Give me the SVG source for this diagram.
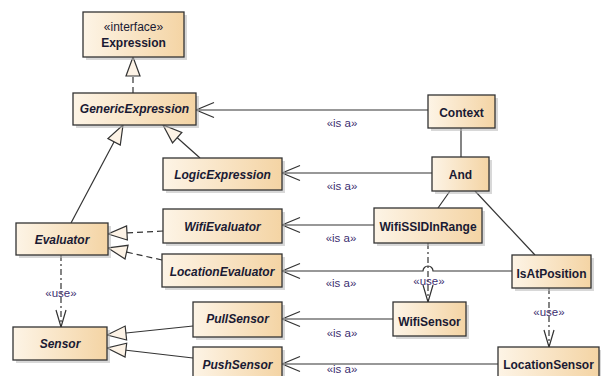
<svg xmlns="http://www.w3.org/2000/svg" width="601" height="376" viewBox="0 0 601 376">
<style>
.box{fill:url(#g);stroke:#333;stroke-width:1.3}
.sh{fill:#b8b8b8;opacity:0.55}
.t{font-family:"Liberation Sans",Arial,sans-serif;font-size:12px;font-weight:bold;fill:#1a1a33;text-anchor:middle}
.i{font-style:italic}
.n{font-weight:normal}
.ln{fill:none;stroke:#333;stroke-width:1.2}
.dash{stroke-dasharray:6,4}
.dd{stroke-dasharray:6,3,2,3}
.lb{font-family:"Liberation Sans",Arial,sans-serif;font-size:11.5px;fill:#3c2f70;text-anchor:middle}
</style>
<defs>
<linearGradient id="g" x1="0" y1="0" x2="1" y2="0">
<stop offset="0" stop-color="#fdf4e6"/>
<stop offset="1" stop-color="#f4d4a4"/>
</linearGradient>
<marker id="tri" markerUnits="userSpaceOnUse" markerWidth="24" markerHeight="20" viewBox="-22 -10 24 20" refX="0" refY="0" orient="auto" overflow="visible">
<path d="M0,0 L-19,-7 L-19,7 Z" fill="#fdf3e6" stroke="#333" stroke-width="1.2"/>
</marker>
<marker id="open" markerUnits="userSpaceOnUse" markerWidth="24" markerHeight="20" viewBox="-22 -10 24 20" refX="0" refY="0" orient="auto" overflow="visible">
<path d="M-18,-7.5 L0,0 L-18,7.5" fill="none" stroke="#333" stroke-width="1.2"/>
</marker>
<marker id="use" markerUnits="userSpaceOnUse" markerWidth="24" markerHeight="20" viewBox="-22 -10 24 20" refX="0" refY="0" orient="auto" overflow="visible">
<path d="M-17,-5 L0,0 L-17,5" fill="none" stroke="#333" stroke-width="1.2"/>
</marker>
</defs>
<rect width="601" height="376" fill="#fff"/>

<g id="connectors">
<path class="ln dash" d="M133,93 V57" marker-end="url(#tri)"/>
<path class="ln" d="M71,223 L123,125" marker-end="url(#tri)"/>
<path class="ln" d="M200,158 L163,125" marker-end="url(#tri)"/>
<path class="ln" d="M428,110 H196" marker-end="url(#open)"/>
<path class="ln" d="M432,173 H282" marker-end="url(#open)"/>
<path class="ln" d="M461,128 V157"/>
<path class="ln" d="M450,191 L438,208"/>
<path class="ln" d="M475,191 L535,255"/>
<path class="ln" d="M374,225 H282" marker-end="url(#open)"/>
<path class="ln" d="M512,271 H433 A5,5 0 0 0 423,271 H282" marker-end="url(#open)"/>
<path class="ln dd" d="M428,243 V302" marker-end="url(#use)"/>
<path class="ln dd" d="M549,288 V347" marker-end="url(#use)"/>
<path class="ln" d="M393,319 H282" marker-end="url(#open)"/>
<path class="ln" d="M498,364 H282" marker-end="url(#open)"/>
<path class="ln dash" d="M163,231 L108,234" marker-end="url(#tri)"/>
<path class="ln dash" d="M162,260 L108,248" marker-end="url(#tri)"/>
<path class="ln dd" d="M61,255 V327" marker-end="url(#use)"/>
<path class="ln" d="M193,326 L107,335" marker-end="url(#tri)"/>
<path class="ln" d="M193,358 L107,348" marker-end="url(#tri)"/>
<text class="lb" x="342" y="127">«is a»</text>
<text class="lb" x="342" y="190">«is a»</text>
<text class="lb" x="341" y="242">«is a»</text>
<text class="lb" x="341" y="287">«is a»</text>
<text class="lb" x="342" y="337">«is a»</text>
<text class="lb" x="342" y="373" font-size="10.5">«is a»</text>
<text class="lb" x="429" y="285">«use»</text>
<text class="lb" x="549" y="316">«use»</text>
<text class="lb" x="61" y="297">«use»</text>
</g>

<g id="Expression">
<rect class="sh" x="86" y="15" width="101" height="45"/>
<rect class="box" x="83" y="12" width="101" height="45"/>
<text class="t n" x="133.5" y="31">«interface»</text>
<text class="t" x="133.5" y="47">Expression</text>
</g>
<g id="GenericExpression">
<rect class="sh" x="76" y="96" width="123" height="32"/>
<rect class="box" x="73" y="93" width="123" height="32"/>
<text class="t i" x="134.5" y="113">GenericExpression</text>
</g>
<g id="LogicExpression">
<rect class="sh" x="166" y="161" width="119" height="32"/>
<rect class="box" x="163" y="158" width="119" height="32"/>
<text class="t i" x="222.5" y="179">LogicExpression</text>
</g>
<g id="Context">
<rect class="sh" x="431" y="98" width="67" height="33"/>
<rect class="box" x="428" y="95" width="67" height="33"/>
<text class="t" x="461.5" y="117">Context</text>
</g>
<g id="And">
<rect class="sh" x="435" y="160" width="57" height="34"/>
<rect class="box" x="432" y="157" width="57" height="34"/>
<text class="t" x="460.5" y="179">And</text>
</g>
<g id="Evaluator">
<rect class="sh" x="19" y="226" width="92" height="32"/>
<rect class="box" x="16" y="223" width="92" height="32"/>
<text class="t i" x="62" y="244">Evaluator</text>
</g>
<g id="WifiEvaluator">
<rect class="sh" x="166" y="212" width="119" height="34"/>
<rect class="box" x="163" y="209" width="119" height="34"/>
<text class="t i" x="222.5" y="231">WifiEvaluator</text>
</g>
<g id="LocationEvaluator">
<rect class="sh" x="165" y="257" width="120" height="33"/>
<rect class="box" x="162" y="254" width="120" height="33"/>
<text class="t i" x="222" y="276">LocationEvaluator</text>
</g>
<g id="Sensor">
<rect class="sh" x="16" y="330" width="94" height="33"/>
<rect class="box" x="13" y="327" width="94" height="33"/>
<text class="t i" x="60" y="348">Sensor</text>
</g>
<g id="PullSensor">
<rect class="sh" x="196" y="305" width="89" height="35"/>
<rect class="box" x="193" y="302" width="89" height="35"/>
<text class="t i" x="237.5" y="323">PullSensor</text>
</g>
<g id="PushSensor">
<rect class="sh" x="196" y="350" width="89" height="35"/>
<rect class="box" x="193" y="347" width="89" height="35"/>
<text class="t i" x="237.5" y="369">PushSensor</text>
</g>
<g id="WifiSSIDInRange">
<rect class="sh" x="377" y="211" width="108" height="35"/>
<rect class="box" x="374" y="208" width="108" height="35"/>
<text class="t" x="428" y="231">WifiSSIDInRange</text>
</g>
<g id="IsAtPosition">
<rect class="sh" x="515" y="258" width="79" height="33"/>
<rect class="box" x="512" y="255" width="79" height="33"/>
<text class="t" x="551.5" y="278">IsAtPosition</text>
</g>
<g id="WifiSensor">
<rect class="sh" x="396" y="305" width="73" height="34"/>
<rect class="box" x="393" y="302" width="73" height="34"/>
<text class="t" x="429.5" y="326">WifiSensor</text>
</g>
<g id="LocationSensor">
<rect class="sh" x="501" y="350" width="101" height="35"/>
<rect class="box" x="498" y="347" width="101" height="35"/>
<text class="t" x="548.5" y="369">LocationSensor</text>
</g>
</svg>
